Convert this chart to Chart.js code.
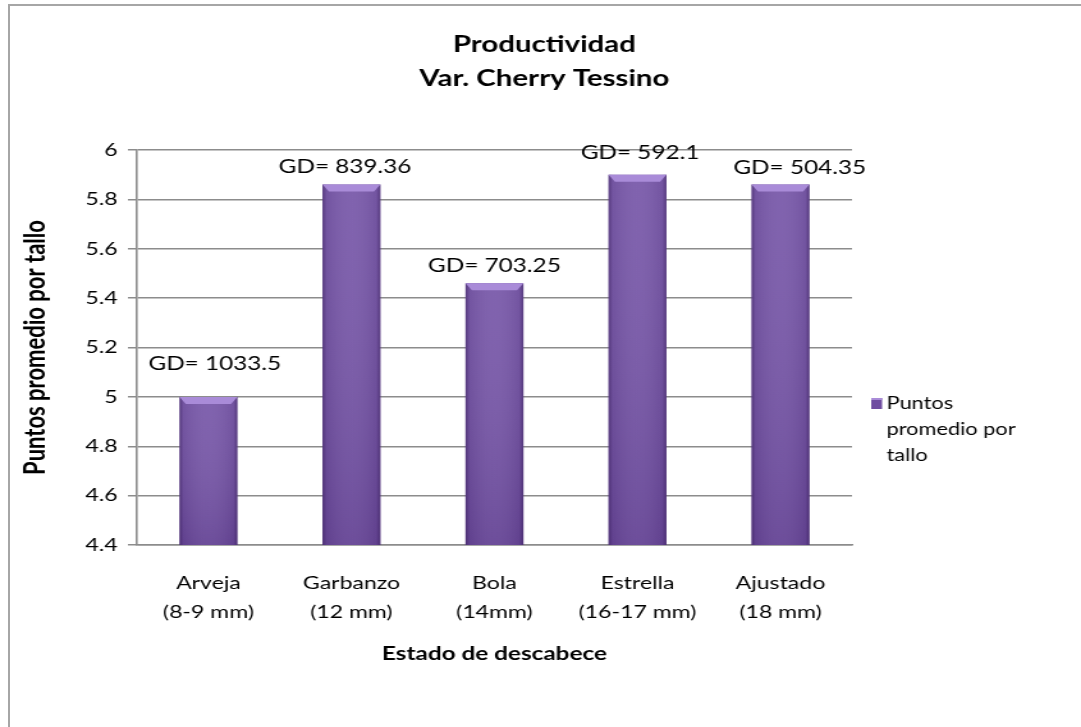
<!DOCTYPE html>
<html>
<head>
<meta charset="utf-8">
<script src="https://cdn.jsdelivr.net/npm/chart.js@4.4.1/dist/chart.umd.min.js"></script>
<style>
  html, body { margin: 0; padding: 0; background: #ffffff; overflow: hidden; }
  #frame {
    position: absolute; left: 8px; top: 4px; width: 1073px; height: 723px;
    border-top: 2px solid #a6a6a6; border-left: 2px solid #a6a6a6; box-sizing: border-box;
  }
  /* the chart is laid out on a narrower canvas and widened to the page width */
  #wrap {
    position: absolute; left: 0; top: 0; width: 845px; height: 727px;
    transform: scaleX(1.2793); transform-origin: 0 0;
  }
</style>
</head>
<body>
<div id="frame"></div>
<div id="wrap"><canvas id="c" width="845" height="727" style="width:845px;height:727px"></canvas></div>
<script>
// Stages of disbudding (estado de descabece)
const categories = [
  ['Arveja', '(8-9 mm)'],
  ['Garbanzo', '(12 mm)'],
  ['Bola', '(14mm)'],
  ['Estrella', '(16-17 mm)'],
  ['Ajustado', '(18 mm)']
];
// Average points per stem
const puntosPromedio = [5.0, 5.86, 5.46, 5.90, 5.86];
// Growing degrees shown above each bar
const gdValues = ['1033.5', '839.36', '703.25', '592.1', '504.35'];
const seriesName = 'Puntos promedio por tallo';
const legendLines = ['Puntos', 'promedio por', 'tallo'];
const yTicks = [4.4, 4.6, 4.8, 5, 5.2, 5.4, 5.6, 5.8, 6];
const titleLines = ['Productividad', 'Var. Cherry Tessino'];

const FONT = 'Lato, "Open Sans", sans-serif';

// Cylinder-like shading on each bar plus a light bevel on top
const barShading = {
  id: 'barShading',
  afterDatasetsDraw(chart) {
    const ctx = chart.ctx;
    const area = chart.chartArea;
    const meta = chart.getDatasetMeta(0);
    ctx.save();
    ctx.beginPath();
    ctx.rect(area.left, area.top, area.right - area.left, area.bottom - area.top);
    ctx.clip();
    meta.data.forEach(bar => {
      const left = bar.x - bar.width / 2;
      const right = bar.x + bar.width / 2;
      const top = bar.y;
      const bottom = Math.min(bar.base, area.bottom);
      const gv = ctx.createLinearGradient(0, top, 0, bottom);
      gv.addColorStop(0, 'rgba(255,255,255,0.06)');
      gv.addColorStop(1, 'rgba(40,10,70,0.16)');
      ctx.fillStyle = gv;
      ctx.fillRect(left, top, right - left, bottom - top);
      const gh = ctx.createLinearGradient(left, 0, right, 0);
      gh.addColorStop(0, 'rgba(40,15,70,0.45)');
      gh.addColorStop(0.07, 'rgba(40,15,70,0.10)');
      gh.addColorStop(0.5, 'rgba(255,255,255,0.04)');
      gh.addColorStop(0.93, 'rgba(40,15,70,0.10)');
      gh.addColorStop(1, 'rgba(40,15,70,0.45)');
      ctx.fillStyle = gh;
      ctx.fillRect(left, top, right - left, bottom - top);
      const bx = 5, by = 7;
      ctx.beginPath();
      ctx.moveTo(left, top);
      ctx.lineTo(right, top);
      ctx.lineTo(right - bx, top + by);
      ctx.lineTo(left + bx, top + by);
      ctx.closePath();
      ctx.fillStyle = '#a98bd8';
      ctx.fill();
    });
    ctx.restore();
  }
};

// "GD= ..." labels above the bars, each nudged a little from the bar centre
const labelNudge = [[5, -33], [-5, -18], [0, -17], [2, -22], [15, -17]];
const gdLabels = {
  id: 'gdLabels',
  afterDatasetsDraw(chart) {
    const ctx = chart.ctx;
    const meta = chart.getDatasetMeta(0);
    ctx.save();
    ctx.font = '19px ' + FONT;
    ctx.fillStyle = '#000000';
    ctx.textAlign = 'center';
    ctx.textBaseline = 'middle';
    meta.data.forEach((bar, i) => {
      const [dx, dy] = labelNudge[i];
      ctx.fillText('GD= ' + gdValues[i], bar.x + dx, bar.y + dy);
    });
    ctx.restore();
  }
};

// Two-line bold title centred on the page
const pageTitle = {
  id: 'pageTitle',
  afterDraw(chart) {
    const ctx = chart.ctx;
    ctx.save();
    ctx.font = 'bold 23px ' + FONT;
    ctx.fillStyle = '#000000';
    ctx.textAlign = 'center';
    ctx.textBaseline = 'middle';
    titleLines.forEach((line, i) => {
      ctx.fillText(line, chart.width / 2 + 3, 45 + i * 34);
    });
    ctx.restore();
  }
};

// Legend box with the wrapped series name at the right
const sideLegend = {
  id: 'sideLegend',
  afterDraw(chart) {
    const ctx = chart.ctx;
    const area = chart.chartArea;
    const x = area.right + 15;
    const y0 = 404;
    ctx.save();
    ctx.fillStyle = '#6f4ca0';
    ctx.fillRect(x, y0 - 6, 8.5, 11);
    ctx.fillStyle = '#a98bd8';
    ctx.fillRect(x, y0 - 6, 8.5, 2);
    ctx.font = '17px ' + FONT;
    ctx.fillStyle = '#000000';
    ctx.textAlign = 'left';
    ctx.textBaseline = 'middle';
    legendLines.forEach((line, i) => {
      ctx.fillText(line, x + 12, y0 + i * 26);
    });
    ctx.restore();
  }
};

new Chart(document.getElementById('c'), {
  type: 'bar',
  data: {
    labels: categories,
    datasets: [{
      label: seriesName,
      data: puntosPromedio,
      backgroundColor: '#7352a6',
      borderWidth: 0,
      barPercentage: 0.405,
      categoryPercentage: 1.0
    }]
  },
  options: {
    responsive: false,
    animation: false,
    events: [],
    layout: { padding: { left: 15, top: 150, right: 179, bottom: 62 } },
    plugins: {
      legend: { display: false },
      tooltip: { enabled: false },
      title: { display: false }
    },
    scales: {
      x: {
        grid: { display: false },
        border: { display: true, color: '#8c8c8c', width: 1.6 },
        ticks: {
          color: '#000000',
          font: { family: FONT, size: 18, lineHeight: 1.6 },
          padding: 16,
          maxRotation: 0,
          autoSkip: false
        },
        title: {
          display: true,
          text: 'Estado de descabece',
          color: '#000000',
          font: { family: FONT, size: 19, weight: 'bold' },
          padding: { top: 6, bottom: 0 }
        },
        afterFit(scale) { scale.height = 120; }
      },
      y: {
        min: 4.4,
        max: 6,
        afterBuildTicks(scale) { scale.ticks = yTicks.map(v => ({ value: v })); },
        grid: { color: '#8c8c8c', lineWidth: 1.5, tickLength: 7, drawTicks: true },
        border: { display: true, color: '#8c8c8c', width: 1.6 },
        ticks: {
          color: '#000000',
          font: { family: FONT, size: 18 },
          padding: 8,
          callback: v => String(parseFloat(Number(v).toFixed(1)))
        },
        title: {
          display: true,
          text: seriesName,
          color: '#000000',
          font: { family: FONT, size: 22, weight: 'bold' },
          padding: { top: 0, bottom: 4 }
        },
        afterFit(scale) { scale.width = 92; }
      }
    }
  },
  plugins: [barShading, gdLabels, pageTitle, sideLegend]
});
</script>
</body>
</html>
